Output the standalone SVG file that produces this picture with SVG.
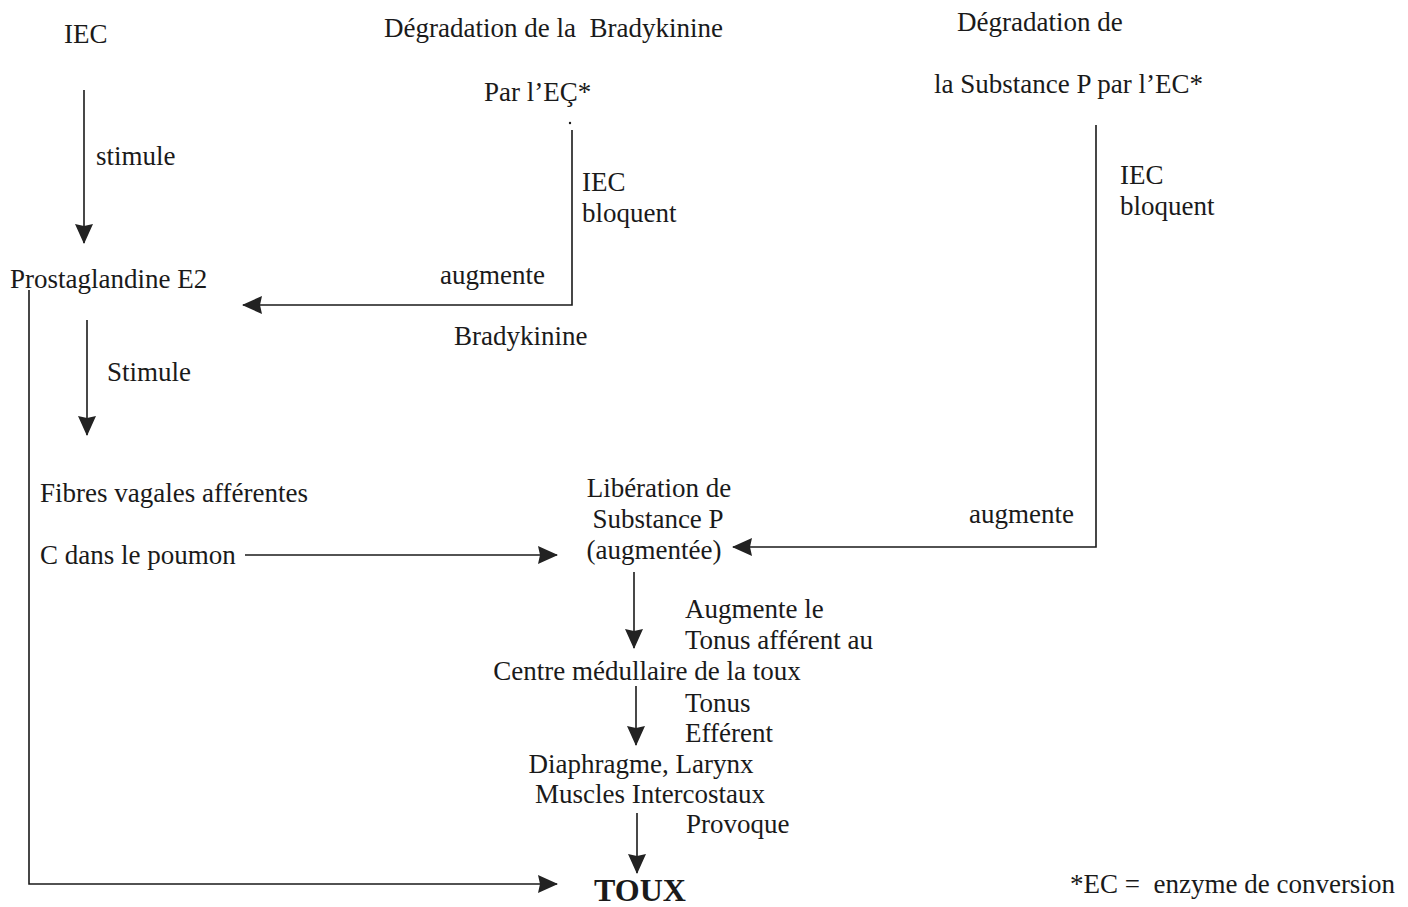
<svg xmlns="http://www.w3.org/2000/svg" width="1408" height="907" viewBox="0 0 1408 907">
  <style>
    text { font-family: "Liberation Serif", "Times New Roman", serif; font-size: 27px; fill: #1a1a1a; white-space: pre; }
    .mid { text-anchor: middle; }
    .bold { font-weight: bold; font-size: 32px; }
    .wire { fill: none; stroke: #1a1a1a; stroke-width: 1.6; }
  </style>
  <defs>
    <marker id="head" viewBox="0 0 20 20" refX="19" refY="10" markerWidth="20" markerHeight="20" markerUnits="userSpaceOnUse" orient="auto">
      <path d="M0,1 L20,10 L0,19 L2,10 z" fill="#222222"/>
    </marker>
  </defs>

  <rect width="1408" height="907" fill="#ffffff"/>

  <!-- connectors -->
  <g id="connectors">
    <path class="wire" d="M84,90 V243" marker-end="url(#head)"/>
    <circle cx="570" cy="123" r="1.2" fill="#1a1a1a"/>
    <path class="wire" d="M572,130 V305 H243" marker-end="url(#head)"/>
    <path class="wire" d="M87,320 V435" marker-end="url(#head)"/>
    <path class="wire" d="M29,290 V884 H557" marker-end="url(#head)"/>
    <path class="wire" d="M245,555 H557" marker-end="url(#head)"/>
    <path class="wire" d="M1096,125 V547 H733" marker-end="url(#head)"/>
    <path class="wire" d="M634,572 V648" marker-end="url(#head)"/>
    <path class="wire" d="M636,686 V745" marker-end="url(#head)"/>
    <path class="wire" d="M637,813 V873" marker-end="url(#head)"/>
  </g>

  <!-- edge labels -->
  <g id="labels">
    <text x="96" y="165">stimule</text>
    <text x="582" y="191">IEC</text>
    <text x="582" y="222">bloquent</text>
    <text x="440" y="284">augmente</text>
    <text x="454" y="345">Bradykinine</text>
    <text x="107" y="381">Stimule</text>
    <text x="1120" y="184">IEC</text>
    <text x="1120" y="215">bloquent</text>
    <text x="969" y="523">augmente</text>
    <text x="685" y="618">Augmente le</text>
    <text x="685" y="649">Tonus afférent au</text>
    <text x="685" y="712">Tonus</text>
    <text x="685" y="742">Efférent</text>
    <text x="686" y="833">Provoque</text>
  </g>

  <!-- nodes -->
  <g id="iec"><text x="64" y="43">IEC</text></g>
  <g id="degradation-bradykinine">
    <text x="384" y="37">Dégradation de la  Bradykinine</text>
    <text x="484" y="101">Par l’EÇ*</text>
  </g>
  <g id="degradation-substance-p">
    <text x="957" y="31">Dégradation de</text>
    <text x="934" y="93">la Substance P par l’EC*</text>
  </g>
  <g id="prostaglandine"><text x="10" y="288">Prostaglandine E2</text></g>
  <g id="fibres-vagales">
    <text x="40" y="502">Fibres vagales afférentes</text>
    <text x="40" y="564">C dans le poumon</text>
  </g>
  <g id="liberation-substance-p">
    <text class="mid" x="659" y="497">Libération de</text>
    <text class="mid" x="658" y="528">Substance P</text>
    <text class="mid" x="654" y="559">(augmentée)</text>
  </g>
  <g id="centre-medullaire"><text class="mid" x="647" y="680">Centre médullaire de la toux</text></g>
  <g id="muscles">
    <text class="mid" x="641" y="773">Diaphragme, Larynx</text>
    <text class="mid" x="650" y="803">Muscles Intercostaux</text>
  </g>
  <g id="toux"><text class="bold" x="594" y="901">TOUX</text></g>
  <g id="legende"><text x="1070" y="893">*EC =  enzyme de conversion</text></g>
</svg>
